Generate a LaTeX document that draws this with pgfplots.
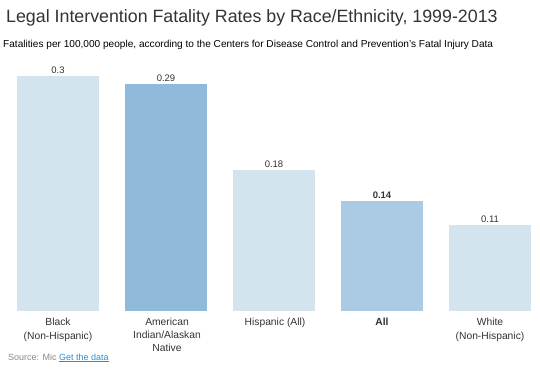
\documentclass[border=0pt]{standalone}
\usepackage{pgfplots}
\pgfplotsset{compat=1.18}
\usepackage{fontspec}
\setmainfont{Liberation Sans}
\definecolor{lightbar}{HTML}{D4E4EF}
\definecolor{darkbar}{HTML}{8FBAD9}
\definecolor{allbar}{HTML}{AACBE3}
\definecolor{txt}{HTML}{333333}
\definecolor{srcgray}{HTML}{888888}
\definecolor{linkblue}{HTML}{2A8ED6}
\begin{document}
\begin{tikzpicture}[x=1pt,y=1pt]
\path[use as bounding box] (0,0) rectangle (540,370);
\begin{axis}[
  at={(9.4pt,59pt)}, anchor=south west,
  scale only axis, width=529.2pt, height=235pt,
  xmin=-0.45, xmax=4.45, ymin=0, ymax=0.3,
  axis lines=none, clip=false,
  ybar, bar width=82pt,
  xtick={0,1,2,3,4},
  every node near coord/.append style={font=\fontsize{9.5}{10}\selectfont, text=txt, yshift=-1pt},
  nodes near coords,
  /pgf/number format/assume math mode=true,
  point meta=y,
]
\addplot[fill=lightbar, draw=none, bar shift=0pt] coordinates {(0,0.30)};
\addplot[fill=darkbar, draw=none, bar shift=0pt] coordinates {(1,0.29)};
\addplot[fill=lightbar, draw=none, bar shift=0pt] coordinates {(2,0.18)};
\addplot[fill=allbar, draw=none, bar shift=0pt, every node near coord/.append style={font=\fontsize{9.5}{10}\selectfont\bfseries}] coordinates {(3,0.14)};
\addplot[fill=lightbar, draw=none, bar shift=0pt] coordinates {(4,0.11)};
\end{axis}
\begin{scope}[every node/.style={font=\fontsize{10.3}{13}\selectfont, text=txt, align=center, anchor=north}]
\node at (58,55) {Black\\(Non-Hispanic)};
\node at (167,55) {American\\Indian/Alaskan\\Native};
\node at (275,55) {Hispanic (All)};
\node at (382,55) {\bfseries All};
\node at (490,55) {White\\(Non-Hispanic)};
\end{scope}
\node[anchor=base west, inner sep=0, text=txt, font=\fontsize{17.8}{20}\selectfont] at (6,347) {Legal Intervention Fatality Rates by Race/Ethnicity, 1999-2013};
\node[anchor=base west, inner sep=0, text=black, font=\fontsize{10.1}{11}\selectfont] at (3,322) {Fatalities per 100,000 people, according to the Centers for Disease Control and Prevention's Fatal Injury Data};
\node[anchor=base west, inner sep=0, font=\fontsize{9}{10}\selectfont] at (8,10) {\textcolor{srcgray}{Source: Mic} \textcolor{linkblue}{\underline{Get the data}}};
\end{tikzpicture}
\end{document}
